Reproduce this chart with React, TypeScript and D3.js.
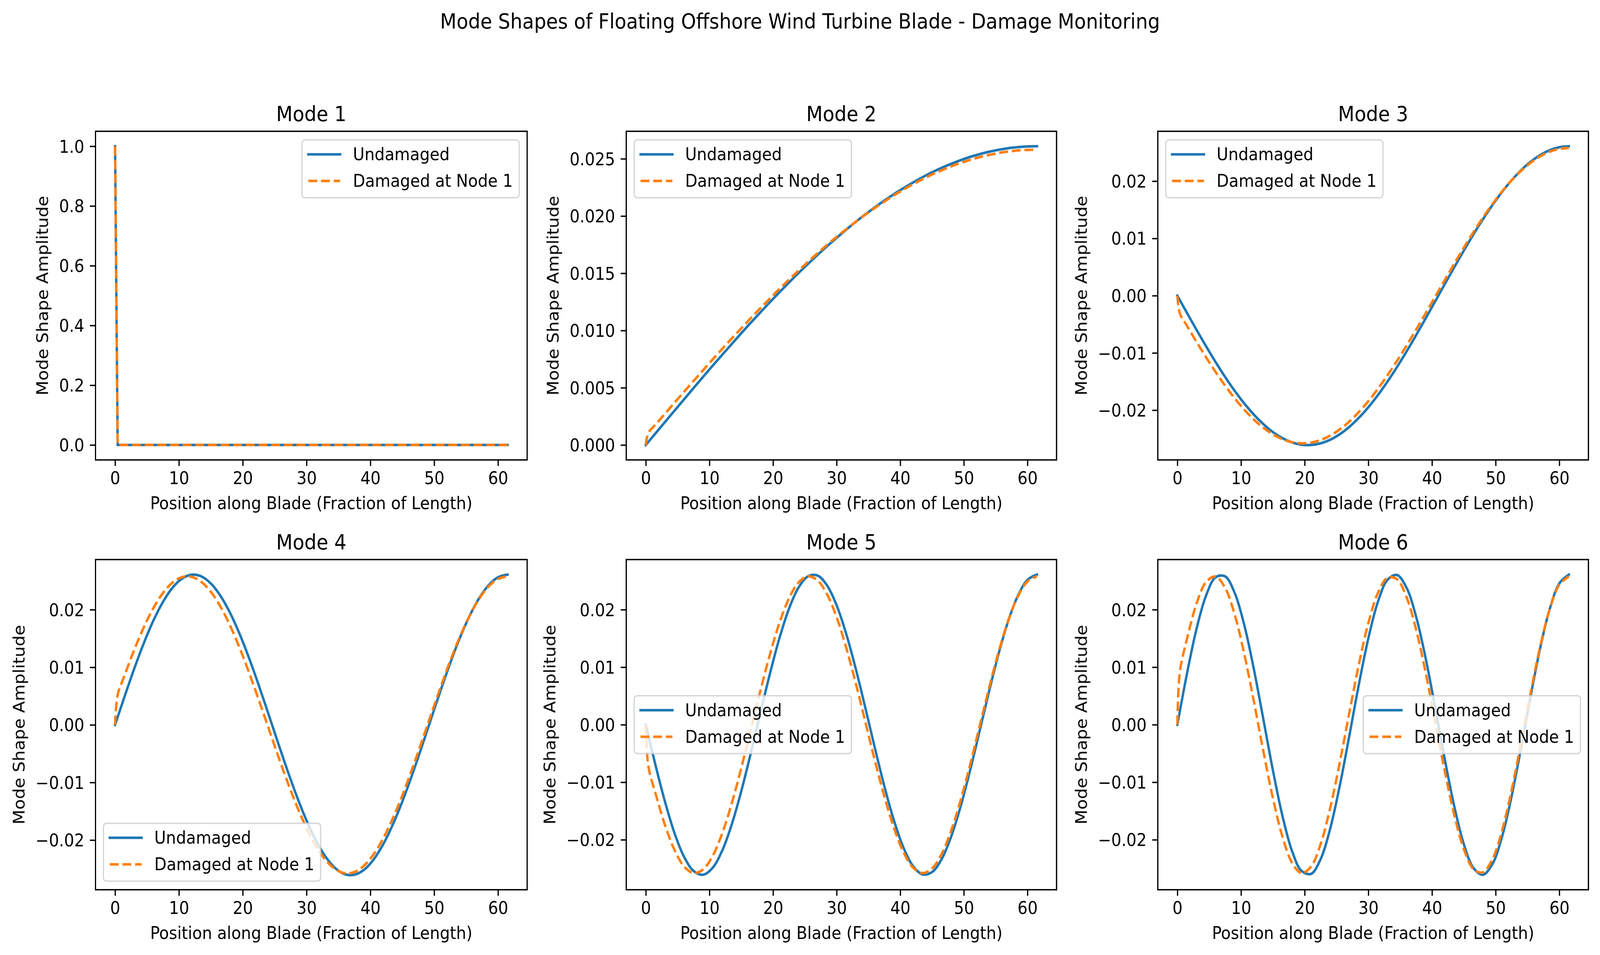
import React, { useEffect, useRef } from "react";
import * as d3 from "d3";

// ---------------- data ----------------
const SUPTITLE = "Mode Shapes of Floating Offshore Wind Turbine Blade - Damage Monitoring";
const X_LABEL = "Position along Blade (Fraction of Length)";
const Y_LABEL = "Mode Shape Amplitude";
const SERIES_NAMES = ["Undamaged", "Damaged at Node 1"];
const MODE_TITLES = ["Mode 1", "Mode 2", "Mode 3", "Mode 4", "Mode 5", "Mode 6"];

const X_TICKS = [0, 10, 20, 30, 40, 50, 60];
const Y_TICKS_MODE1 = [0, 0.2, 0.4, 0.6, 0.8, 1.0];
const Y_TICKS_MODE2 = [0, 0.005, 0.01, 0.015, 0.02, 0.025];
const Y_TICKS_WAVE = [-0.02, -0.01, 0, 0.01, 0.02];

// Mode 1: spike at the root, zero along the rest of the blade
const MODE1_X = [0, 0.4, 61.5];
const MODE1_UNDAMAGED = [1.0, 0.0, 0.0];
const MODE1_DAMAGED = [1.0, 0.0, 0.0];

// Positions along the blade for modes 2-6
const POS = [0, 0.4, 1.5, 3, 4.5, 6, 7.5, 9, 10.5, 12, 13.5, 15, 16.5, 18, 19.5, 21, 22.5, 24, 25.5, 27, 28.5, 30,
  31.5, 33, 34.5, 36, 37.5, 39, 40.5, 42, 43.5, 45, 46.5, 48, 49.5, 51, 52.5, 54, 55.5, 57, 58.5, 60, 61.5];

const MODE2_UNDAMAGED = [0, 0.00027, 0.00100, 0.00200, 0.00299, 0.00398, 0.00497, 0.00595, 0.00692, 0.00787, 0.00882,
  0.00976, 0.01068, 0.01158, 0.01247, 0.01334, 0.01419, 0.01502, 0.01582, 0.01661, 0.01737, 0.01810, 0.01881, 0.01949,
  0.02014, 0.02076, 0.02135, 0.02191, 0.02243, 0.02293, 0.02339, 0.02382, 0.02421, 0.02456, 0.02488, 0.02517, 0.02541,
  0.02562, 0.02579, 0.02593, 0.02602, 0.02608, 0.02610];
const MODE2_DAMAGED = [0, 0.00105, 0.00176, 0.00272, 0.00369, 0.00464, 0.00559, 0.00653, 0.00747, 0.00839, 0.00930,
  0.01019, 0.01108, 0.01194, 0.01279, 0.01363, 0.01444, 0.01523, 0.01600, 0.01675, 0.01748, 0.01818, 0.01885, 0.01950,
  0.02012, 0.02071, 0.02127, 0.02181, 0.02231, 0.02278, 0.02322, 0.02363, 0.02400, 0.02434, 0.02464, 0.02491, 0.02515,
  0.02534, 0.02551, 0.02564, 0.02573, 0.02578, 0.02580];

const MODE3_UNDAMAGED = [0, -0.00080, -0.00299, -0.00595, -0.00882, -0.01158, -0.01419, -0.01661, -0.01881, -0.02076,
  -0.02243, -0.02382, -0.02488, -0.02562, -0.02602, -0.02608, -0.02579, -0.02517, -0.02421, -0.02293, -0.02135, -0.01949,
  -0.01737, -0.01502, -0.01247, -0.00976, -0.00692, -0.00398, -0.00100, 0.00200, 0.00497, 0.00787, 0.01068, 0.01334,
  0.01582, 0.01810, 0.02014, 0.02191, 0.02339, 0.02456, 0.02541, 0.02593, 0.02610];
const MODE3_DAMAGED = [0, -0.00314, -0.00524, -0.00805, -0.01075, -0.01332, -0.01572, -0.01792, -0.01990, -0.02162,
  -0.02306, -0.02422, -0.02506, -0.02559, -0.02579, -0.02567, -0.02522, -0.02445, -0.02337, -0.02200, -0.02034, -0.01843,
  -0.01628, -0.01393, -0.01140, -0.00873, -0.00594, -0.00308, -0.00018, 0.00272, 0.00559, 0.00839, 0.01108, 0.01363,
  0.01600, 0.01818, 0.02012, 0.02181, 0.02322, 0.02434, 0.02515, 0.02564, 0.02580];

const MODE4_UNDAMAGED = [0, 0.00133, 0.00497, 0.00976, 0.01419, 0.01810, 0.02135, 0.02382, 0.02541, 0.02608, 0.02579,
  0.02456, 0.02243, 0.01949, 0.01582, 0.01158, 0.00692, 0.00200, -0.00299, -0.00787, -0.01247, -0.01661, -0.02014,
  -0.02293, -0.02488, -0.02593, -0.02602, -0.02517, -0.02339, -0.02076, -0.01737, -0.01334, -0.00882, -0.00398, 0.00100,
  0.00595, 0.01068, 0.01502, 0.01881, 0.02191, 0.02421, 0.02562, 0.02610];
const MODE4_DAMAGED = [0, 0.00521, 0.00863, 0.01302, 0.01695, 0.02028, 0.02290, 0.02471, 0.02566, 0.02570, 0.02484,
  0.02311, 0.02056, 0.01729, 0.01341, 0.00906, 0.00439, -0.00043, -0.00524, -0.00987, -0.01414, -0.01792, -0.02107,
  -0.02348, -0.02506, -0.02576, -0.02556, -0.02445, -0.02249, -0.01973, -0.01628, -0.01226, -0.00781, -0.00308, 0.00176,
  0.00653, 0.01108, 0.01523, 0.01885, 0.02181, 0.02400, 0.02534, 0.02580];

const MODE5_UNDAMAGED = [0, -0.00187, -0.00692, -0.01334, -0.01881, -0.02293, -0.02541, -0.02608, -0.02488, -0.02191,
  -0.01737, -0.01158, -0.00497, 0.00200, 0.00882, 0.01502, 0.02014, 0.02382, 0.02579, 0.02593, 0.02421, 0.02076, 0.01582,
  0.00976, 0.00299, -0.00398, -0.01068, -0.01661, -0.02135, -0.02456, -0.02602, -0.02562, -0.02339, -0.01949, -0.01419,
  -0.00787, -0.00100, 0.00595, 0.01247, 0.01810, 0.02243, 0.02517, 0.02610];
const MODE5_DAMAGED = [0, -0.00724, -0.01185, -0.01740, -0.02175, -0.02461, -0.02578, -0.02517, -0.02283, -0.01892,
  -0.01371, -0.00756, -0.00089, 0.00584, 0.01217, 0.01766, 0.02194, 0.02471, 0.02579, 0.02509, 0.02266, 0.01868, 0.01341,
  0.00723, 0.00053, -0.00619, -0.01248, -0.01792, -0.02213, -0.02482, -0.02579, -0.02500, -0.02249, -0.01843, -0.01310,
  -0.00688, -0.00018, 0.00653, 0.01279, 0.01818, 0.02231, 0.02491, 0.02580];

const MODE6_UNDAMAGED = [0, 0.00240, 0.00882, 0.01661, 0.02243, 0.02562, 0.02579, 0.02293, 0.01737, 0.00976, 0.00100,
  -0.00787, -0.01582, -0.02191, -0.02541, -0.02593, -0.02339, -0.01810, -0.01068, -0.00200, 0.00692, 0.01502, 0.02135,
  0.02517, 0.02602, 0.02382, 0.01881, 0.01158, 0.00299, -0.00595, -0.01419, -0.02076, -0.02488, -0.02608, -0.02421,
  -0.01949, -0.01247, -0.00398, 0.00497, 0.01334, 0.02014, 0.02456, 0.02610];
const MODE6_DAMAGED = [0, 0.00923, 0.01486, 0.02101, 0.02479, 0.02575, 0.02380, 0.01916, 0.01235, 0.00414, -0.00454,
  -0.01271, -0.01943, -0.02396, -0.02578, -0.02467, -0.02077, -0.01452, -0.00663, 0.00201, 0.01043, 0.01766, 0.02290,
  0.02554, 0.02529, 0.02218, 0.01656, 0.00906, 0.00053, -0.00805, -0.01572, -0.02162, -0.02506, -0.02567, -0.02337,
  -0.01843, -0.01140, -0.00308, 0.00559, 0.01363, 0.02012, 0.02434, 0.02580];

const LEGEND_LOCS = ["upper right", "upper left", "upper left", "lower left", "center left", "center right"];

// ---------------- layout / style ----------------
const W = 4425;
const H = 2444;
const FONT = "'DejaVu Sans', sans-serif";
const PT = 4.4;
const BLUE = "#1f77b4";
const ORANGE = "#ff7f0e";
const COL_LEFT = [264, 1732, 3202];
const COL_RIGHT = [1458, 2922, 4393];
const ROW_TOP = [336, 1432];
const ROW_BOTTOM = [1177, 2277];

type Panel = {
  title: string;
  x: number[];
  u: number[];
  d: number[];
  ticks: number[];
  fmt: string;
  loc: string;
};

const PANELS: Panel[] = [
  { title: MODE_TITLES[0], x: MODE1_X, u: MODE1_UNDAMAGED, d: MODE1_DAMAGED, ticks: Y_TICKS_MODE1, fmt: ".1f", loc: LEGEND_LOCS[0] },
  { title: MODE_TITLES[1], x: POS, u: MODE2_UNDAMAGED, d: MODE2_DAMAGED, ticks: Y_TICKS_MODE2, fmt: ".3f", loc: LEGEND_LOCS[1] },
  { title: MODE_TITLES[2], x: POS, u: MODE3_UNDAMAGED, d: MODE3_DAMAGED, ticks: Y_TICKS_WAVE, fmt: ".2f", loc: LEGEND_LOCS[2] },
  { title: MODE_TITLES[3], x: POS, u: MODE4_UNDAMAGED, d: MODE4_DAMAGED, ticks: Y_TICKS_WAVE, fmt: ".2f", loc: LEGEND_LOCS[3] },
  { title: MODE_TITLES[4], x: POS, u: MODE5_UNDAMAGED, d: MODE5_DAMAGED, ticks: Y_TICKS_WAVE, fmt: ".2f", loc: LEGEND_LOCS[4] },
  { title: MODE_TITLES[5], x: POS, u: MODE6_UNDAMAGED, d: MODE6_DAMAGED, ticks: Y_TICKS_WAVE, fmt: ".2f", loc: LEGEND_LOCS[5] },
];

export default function App() {
  const ref = useRef<SVGSVGElement | null>(null);

  useEffect(() => {
    document.documentElement.style.margin = "0";
    document.documentElement.style.overflow = "hidden";
    document.body.style.margin = "0";
    document.body.style.overflow = "hidden";

    const svg = d3.select(ref.current as SVGSVGElement);
    svg.selectAll("*").remove();
    svg.append("rect").attr("width", W).attr("height", H).attr("fill", "white");

    svg.append("text")
      .attr("x", W / 2).attr("y", 73)
      .attr("text-anchor", "middle")
      .attr("font-family", FONT).attr("font-size", 12 * PT)
      .attr("fill", "black")
      .text(SUPTITLE);

    const lw = 1.5 * PT;
    const fs = 10 * PT;
    const tickLen = 3.5 * PT;
    const tickPad = 3.5 * PT;

    PANELS.forEach((p, idx) => {
      const r = Math.floor(idx / 3);
      const c = idx % 3;
      const left = COL_LEFT[c], right = COL_RIGHT[c], top = ROW_TOP[r], bottom = ROW_BOTTOM[r];

      const [x0, x1] = d3.extent(p.x) as [number, number];
      const xPad = (x1 - x0) * 0.05;
      const x = d3.scaleLinear().domain([x0 - xPad, x1 + xPad]).range([left, right]);
      const [y0, y1] = d3.extent(p.u.concat(p.d)) as [number, number];
      const yPad = (y1 - y0) * 0.05;
      const y = d3.scaleLinear().domain([y0 - yPad, y1 + yPad]).range([bottom, top]);

      const g = svg.append("g");
      const clipId = `clip${idx}`;
      g.append("clipPath").attr("id", clipId)
        .append("rect").attr("x", left).attr("y", top).attr("width", right - left).attr("height", bottom - top);

      const curve = idx === 0 ? d3.curveLinear : d3.curveCatmullRom.alpha(0.5);
      const line = d3.line<number>()
        .x((_, i) => x(p.x[i]))
        .y((v) => y(v))
        .curve(curve);

      const lines = g.append("g").attr("clip-path", `url(#${clipId})`);
      lines.append("path")
        .attr("d", line(p.u) as string)
        .attr("fill", "none").attr("stroke", BLUE).attr("stroke-width", lw)
        .attr("stroke-linejoin", "round").attr("stroke-linecap", "square");
      lines.append("path")
        .attr("d", line(p.d) as string)
        .attr("fill", "none").attr("stroke", ORANGE).attr("stroke-width", lw)
        .attr("stroke-linejoin", "round")
        .attr("stroke-dasharray", `${3.7 * lw},${1.6 * lw}`);

      // X axis
      const xAxis = d3.axisBottom(x).tickValues(X_TICKS).tickSize(tickLen).tickPadding(tickPad)
        .tickFormat(d3.format("d") as any);
      const gx = g.append("g").attr("transform", `translate(0,${bottom})`).call(xAxis as any);
      gx.select(".domain").remove();
      gx.selectAll(".tick line").attr("stroke", "black").attr("stroke-width", 0.8 * PT);
      gx.selectAll(".tick text").attr("font-family", FONT).attr("font-size", fs).attr("fill", "black");

      // Y axis
      const yAxis = d3.axisLeft(y).tickValues(p.ticks).tickSize(tickLen).tickPadding(tickPad)
        .tickFormat(d3.format(p.fmt) as any);
      const gy = g.append("g").attr("transform", `translate(${left},0)`).call(yAxis as any);
      gy.select(".domain").remove();
      gy.selectAll(".tick line").attr("stroke", "black").attr("stroke-width", 0.8 * PT);
      gy.selectAll(".tick text").attr("font-family", FONT).attr("font-size", fs).attr("fill", "black")
        .attr("dy", "0.36em");

      let maxW = 0;
      gy.selectAll<SVGTextElement, unknown>(".tick text").each(function () {
        const w = this.getBBox().width;
        if (w > maxW) maxW = w;
      });

      // spines
      g.append("rect")
        .attr("x", left).attr("y", top).attr("width", right - left).attr("height", bottom - top)
        .attr("fill", "none").attr("stroke", "black").attr("stroke-width", 0.8 * PT);

      // labels
      g.append("text")
        .attr("x", (left + right) / 2).attr("y", bottom + 126)
        .attr("text-anchor", "middle").attr("font-family", FONT).attr("font-size", fs).attr("fill", "black")
        .text(X_LABEL);
      const ylx = left - tickLen - tickPad - maxW - 4 * PT - 13;
      const yly = (top + bottom) / 2;
      g.append("text")
        .attr("transform", `translate(${ylx},${yly}) rotate(-90)`)
        .attr("text-anchor", "middle").attr("font-family", FONT).attr("font-size", fs).attr("fill", "black")
        .text(Y_LABEL);
      g.append("text")
        .attr("x", (left + right) / 2).attr("y", top - 6 * PT)
        .attr("text-anchor", "middle").attr("font-family", FONT).attr("font-size", 12 * PT).attr("fill", "black")
        .text(p.title);

      // legend
      const lg = g.append("g");
      const box = lg.append("rect");
      const t1 = lg.append("text").attr("font-family", FONT).attr("font-size", fs).attr("fill", "black").text(SERIES_NAMES[0]);
      const t2 = lg.append("text").attr("font-family", FONT).attr("font-size", fs).attr("fill", "black").text(SERIES_NAMES[1]);
      const textW = Math.max((t1.node() as SVGTextElement).getComputedTextLength(),
        (t2.node() as SVGTextElement).getComputedTextLength());
      const bp = 0.4 * fs, hl = 2.0 * fs, htp = 0.8 * fs, bap = 0.5 * fs;
      const lwid = bp + hl + htp + textW + bp;
      const lhgt = 148;
      let lx = left + bap, ly = top + bap;
      if (p.loc.includes("right")) lx = right - bap - lwid;
      if (p.loc.startsWith("lower")) ly = bottom - bap - lhgt;
      if (p.loc.startsWith("center")) ly = (top + bottom) / 2 - lhgt / 2;
      box.attr("x", lx).attr("y", ly).attr("width", lwid).attr("height", lhgt)
        .attr("rx", 0.2 * fs).attr("ry", 0.2 * fs)
        .attr("fill", "white").attr("fill-opacity", 0.8)
        .attr("stroke", "#cccccc").attr("stroke-opacity", 0.8).attr("stroke-width", 3.5);
      const r1 = ly + 37, r2 = ly + 105;
      lg.append("line").attr("x1", lx + bp).attr("x2", lx + bp + hl).attr("y1", r1).attr("y2", r1)
        .attr("stroke", BLUE).attr("stroke-width", lw).attr("stroke-linecap", "square");
      lg.append("line").attr("x1", lx + bp).attr("x2", lx + bp + hl).attr("y1", r2).attr("y2", r2)
        .attr("stroke", ORANGE).attr("stroke-width", lw).attr("stroke-dasharray", `${3.7 * lw},${1.6 * lw}`);
      t1.attr("x", lx + bp + hl + htp).attr("y", r1 + 15.5);
      t2.attr("x", lx + bp + hl + htp).attr("y", r2 + 15.5);
    });
  }, []);

  return (
    <svg
      ref={ref}
      viewBox={`0 0 ${W} ${H}`}
      preserveAspectRatio="none"
      style={{ position: "fixed", left: 0, top: 0, width: "100vw", height: "100vh", display: "block" }}
    />
  );
}
